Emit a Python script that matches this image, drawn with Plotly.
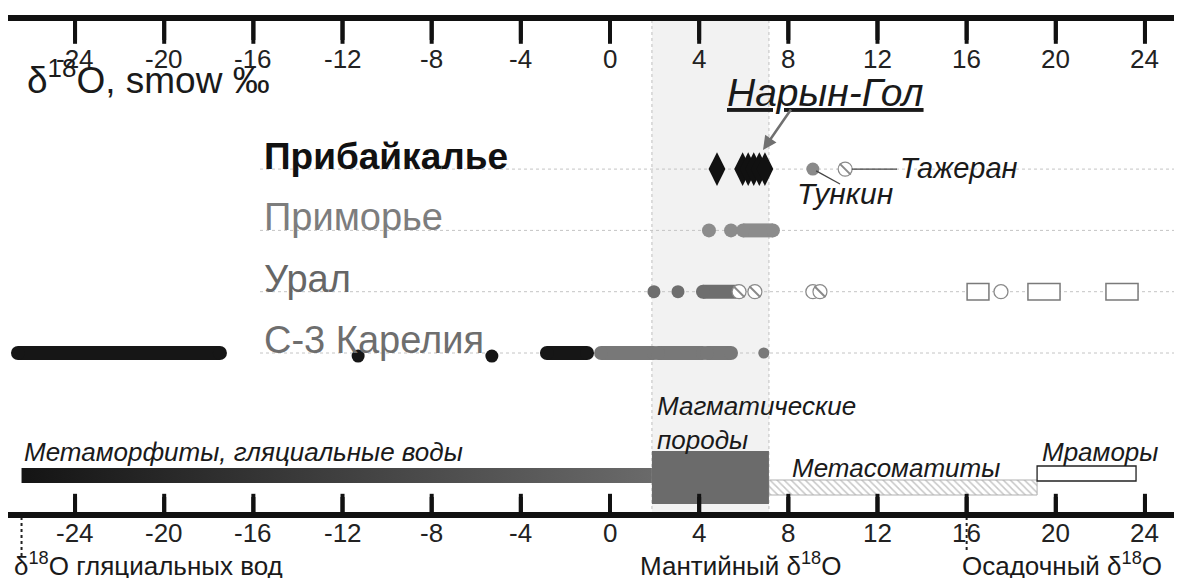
import plotly.graph_objects as go

# ---------------- data ----------------
tick_vals = list(range(-24, 25, 4))
tick_text = [str(v) for v in tick_vals]

row_names = ["Прибайкалье", "Приморье", "Урал", "С-3 Карелия"]
row_index = [4, 3, 2, 1]

# Прибайкалье
baikal_narin_gol = [4.8, 5.95, 6.2, 6.45, 6.7, 6.95]
baikal_tunkin = [9.1]
baikal_tazheran = [10.55]

# Приморье
primorye_points = [4.44, 5.43]
primorye_ranges_start = [5.97]
primorye_ranges_end = [7.31]

# Урал
ural_points = [1.97, 3.05]
ural_ranges_start = [4.17]
ural_ranges_end = [5.79]
ural_hatched = [5.79, 6.5, 9.42]
ural_open = [9.1, 17.54]
ural_boxes_start = [16.02, 18.75, 22.25]
ural_boxes_end = [17.0, 20.19, 23.69]

# С-3 Карелия
karelia_black_start = [-26.56, -2.83]
karelia_black_end = [-17.5, -1.03]
karelia_black_points = [-11.3, -5.3]
karelia_grey_start = [-0.4, 2.15, 4.35]
karelia_grey_end = [1.97, 4.17, 5.43]
karelia_grey_points = [6.9]

# reference fields (start, end)
field_names = ["Метаморфиты, гляциальные воды", "Магматические<br>породы", "Метасоматиты", "Мраморы"]
metamorphic_range = [-26.4, 1.88]
magmatic_range = [1.88, 7.13]
metasomatic_range = [7.13, 19.16]
marble_range = [19.16, 23.6]
mantle_band = [1.88, 7.13]
glacial_ref = -26.4
sedimentary_ref = 16.0

# ---------------- layout helpers ----------------
SCREEN_W, SCREEN_H = 1182, 578
OFF = 8                          # page body margin
W, H = SCREEN_W - OFF, SCREEN_H - OFF
PX0, PXU = 610.0, 22.29          # screen pixel of value 0, pixels per unit
ROW1_PX, ROW_STEP = 353.0, 61.3  # screen pixel of row 1, pixels per row


def vx(px):
    return (px - PX0) / PXU


def ypx(px):
    return 1 + (ROW1_PX - px) / ROW_STEP


def paper_y(px):
    return 1 - (px - OFF) / H


X_RANGE = [vx(OFF), vx(SCREEN_W)]
Y_RANGE = [ypx(SCREEN_H), ypx(OFF)]
FONT = "Arial, 'Liberation Sans', sans-serif"

fig = go.Figure()


def capsules(starts, ends, y, color, w):
    xs, ys = [], []
    for a, b in zip(starts, ends):
        xs += [a, b, None]
        ys += [y, y, None]
    fig.add_trace(go.Scatter(x=xs, y=ys, mode="lines+markers",
                             line=dict(color=color, width=w),
                             marker=dict(color=color, size=w),
                             hoverinfo="skip", showlegend=False))


def dots(xs, y, color, size, symbol="circle", line=None):
    fig.add_trace(go.Scatter(x=xs, y=[y] * len(xs), mode="markers",
                             marker=dict(color=color, size=size, symbol=symbol,
                                         line=line or dict(width=0)),
                             hoverinfo="skip", showlegend=False))


def hatched(xs, y, size=14):
    dots(xs, y, "white", size, line=dict(color="#8a8a8a", width=1.2))
    dots(xs, y, "#8a8a8a", size - 3, symbol="line-nw",
         line=dict(color="#8a8a8a", width=2))


# mantle band
fig.add_shape(type="rect", xref="x", yref="paper", x0=mantle_band[0], x1=mantle_band[1],
              y0=paper_y(515), y1=paper_y(18), fillcolor="#f2f2f2", line=dict(width=0), layer="below")
for v in mantle_band:
    fig.add_shape(type="line", xref="x", yref="paper", x0=v, x1=v,
                  y0=paper_y(515), y1=paper_y(18), line=dict(color="#c0c0c0", width=1, dash="dot"),
                  layer="below")

# row gridlines (kept below the marks)
for r in row_index:
    fig.add_shape(type="line", xref="x", yref="y", x0=vx(260), x1=X_RANGE[1], y0=r, y1=r,
                  line=dict(color="#c4c4c4", width=1, dash="dot"), layer="below")

# --- Прибайкалье
r_b = row_index[0]
dots(baikal_narin_gol, r_b, "#111111", 24, symbol="diamond-tall")
dots(baikal_tunkin, r_b, "#8a8a8a", 13)
hatched(baikal_tazheran, r_b)

# --- Приморье
r_p = row_index[1]
dots(primorye_points, r_p, "#8c8c8c", 14)
capsules(primorye_ranges_start, primorye_ranges_end, r_p, "#8c8c8c", 14)

# --- Урал
r_u = row_index[2]
dots(ural_points, r_u, "#6e6e6e", 13)
capsules(ural_ranges_start, ural_ranges_end, r_u, "#6e6e6e", 14)
dots(ural_open, r_u, "white", 14, line=dict(color="#8a8a8a", width=1.3))
hatched(ural_hatched, r_u)
fig.add_trace(go.Bar(orientation="h", y=[r_u] * len(ural_boxes_start),
                     base=ural_boxes_start,
                     x=[b - a for a, b in zip(ural_boxes_start, ural_boxes_end)],
                     width=0.27, marker=dict(color="white", line=dict(color="#7a7a7a", width=1.5)),
                     hoverinfo="skip", showlegend=False))

# --- Карелия
r_k = row_index[3]
capsules(karelia_black_start, karelia_black_end, r_k, "#161616", 14)
dots(karelia_black_points, r_k - 0.05, "#161616", 13)
capsules(karelia_grey_start, karelia_grey_end, r_k, "#787878", 14)
dots(karelia_grey_points, r_k, "#787878", 11)

# --- reference fields
y_meta, h_meta = ypx(475.5), 15 / ROW_STEP
fig.add_trace(go.Scatter(
    x=[metamorphic_range[0], metamorphic_range[1], metamorphic_range[1], metamorphic_range[0], metamorphic_range[0]],
    y=[y_meta - h_meta / 2, y_meta - h_meta / 2, y_meta + h_meta / 2, y_meta + h_meta / 2, y_meta - h_meta / 2],
    mode="lines", line=dict(width=0), fill="toself",
    fillgradient=dict(type="horizontal", colorscale=[[0, "#141414"], [1, "#6a6a6a"]]),
    hoverinfo="skip", showlegend=False))

fig.add_trace(go.Bar(orientation="h", y=[ypx(487.5)], base=[metasomatic_range[0]],
                     x=[metasomatic_range[1] - metasomatic_range[0]], width=15 / ROW_STEP,
                     marker=dict(color="white", line=dict(color="#b0b0b0", width=1),
                                 pattern=dict(shape="\\", fgcolor="#8f8f8f", size=5, solidity=0.3)),
                     hoverinfo="skip", showlegend=False))
fig.add_trace(go.Bar(orientation="h", y=[ypx(477.5)], base=[magmatic_range[0]],
                     x=[magmatic_range[1] - magmatic_range[0]], width=53 / ROW_STEP,
                     marker=dict(color="#6b6b6b", line=dict(width=0)),
                     hoverinfo="skip", showlegend=False))
fig.add_trace(go.Bar(orientation="h", y=[ypx(473.5)], base=[marble_range[0]],
                     x=[marble_range[1] - marble_range[0]], width=15 / ROW_STEP,
                     marker=dict(color="white", line=dict(color="#222222", width=1.3)),
                     hoverinfo="skip", showlegend=False))

# reference dotted markers below the axis
for v, bottom in [(glacial_ref, 558), (sedimentary_ref, 552)]:
    fig.add_trace(go.Scatter(x=[v, v], y=[ypx(517), ypx(bottom)], mode="lines",
                             line=dict(color="#222222", width=2, dash="dot"),
                             hoverinfo="skip", showlegend=False))

# Tunkin / Tazheran leaders
fig.add_trace(go.Scatter(x=[baikal_tunkin[0] + 0.15, vx(840)], y=[r_b - 0.03, ypx(184)], mode="lines",
                         line=dict(color="#444444", width=1.3), hoverinfo="skip", showlegend=False))
fig.add_trace(go.Scatter(x=[baikal_tazheran[0] + 0.3, vx(897)], y=[r_b, r_b], mode="lines",
                         line=dict(color="#444444", width=1.3), hoverinfo="skip", showlegend=False))

# ---------------- the two δ18O scales ----------------
ann = []
for line_px, t0, t1, label_px in [(18, 21, 40, 59), (515, 497, 513, 533)]:
    fig.add_shape(type="line", xref="paper", yref="paper", x0=0, x1=1,
                  y0=paper_y(line_px), y1=paper_y(line_px),
                  line=dict(color="#111111", width=6), layer="above")
    # tick marks as vertical line markers on the tick values
    fig.add_trace(go.Scatter(x=tick_vals, y=[ypx((t0 + t1) / 2)] * len(tick_vals), mode="markers",
                             marker=dict(symbol="line-ns", size=t1 - t0,
                                         line=dict(color="#111111", width=4)),
                             hoverinfo="skip", showlegend=False))
    for v, t in zip(tick_vals, tick_text):
        fig.add_shape(type="line", xref="x", yref="paper", x0=v, x1=v,
                      y0=paper_y(t1), y1=paper_y(t0),
                      line=dict(color="#111111", width=4), layer="above")
        ann.append(dict(x=v, y=ypx(label_px), xref="x", yref="y", text=t, showarrow=False,
                        xanchor="center", yanchor="middle",
                        font=dict(family=FONT, size=26, color="#222222")))


# ---------------- annotations ----------------
def text(x, y, s, size, color="#1a1a1a", xanchor="left", italic=False, bold=False, yshift=0):
    if italic:
        s = "<i>" + s + "</i>"
    if bold:
        s = "<b>" + s + "</b>"
    ann.append(dict(x=x, y=y, xref="x", yref="y", text=s, showarrow=False, xanchor=xanchor,
                    yanchor="middle", yshift=yshift, align="left",
                    font=dict(family=FONT, size=size, color=color)))


text(vx(25), ypx(77), "δ<sup>18</sup>O, smow ‰", 37)
row_colors = ["#111111", "#7d7d7d", "#666666", "#6e6e6e"]
row_sizes = [37, 38, 38, 38]
for name, r, c, s, i in zip(row_names, row_index, row_colors, row_sizes, range(4)):
    text(vx(262), r, name, s, color=c, bold=(i == 0), yshift=13)

text(vx(825), ypx(92), "<u>Нарын-Гол</u>", 39, xanchor="center", italic=True)
text(vx(795), ypx(193), "Тункин", 30, italic=True)
text(vx(898), ypx(168), "Тажеран", 29, italic=True)

text(vx(22), ypx(452), field_names[0], 26, italic=True)
text(vx(655), ypx(423), field_names[1], 26, italic=True)
text(vx(790), ypx(468), field_names[2], 26, italic=True)
text(vx(1040), ypx(452), field_names[3], 26, italic=True)

text(vx(12), ypx(564), "δ<sup>18</sup>O гляциальных вод", 26)
text(vx(740), ypx(564), "Мантийный δ<sup>18</sup>O", 26, xanchor="center")
text(vx(1062), ypx(564), "Осадочный δ<sup>18</sup>O", 26, xanchor="center")

# Narin-Gol arrow
ann.append(dict(x=vx(763), y=ypx(150), ax=vx(792), ay=ypx(108), xref="x", yref="y",
                axref="x", ayref="y", text="", showarrow=True, arrowhead=2, arrowsize=1.1,
                arrowwidth=2.5, arrowcolor="#707070"))

fig.update_layout(
    width=W, height=H, margin=dict(l=0, r=0, t=0, b=0),
    paper_bgcolor="white", plot_bgcolor="white",
    barmode="overlay", showlegend=False,
    xaxis=dict(range=X_RANGE, domain=[0, 1], visible=False),
    yaxis=dict(range=Y_RANGE, domain=[0, 1], visible=False),
    annotations=ann,
)

fig.write_html("out.html")
